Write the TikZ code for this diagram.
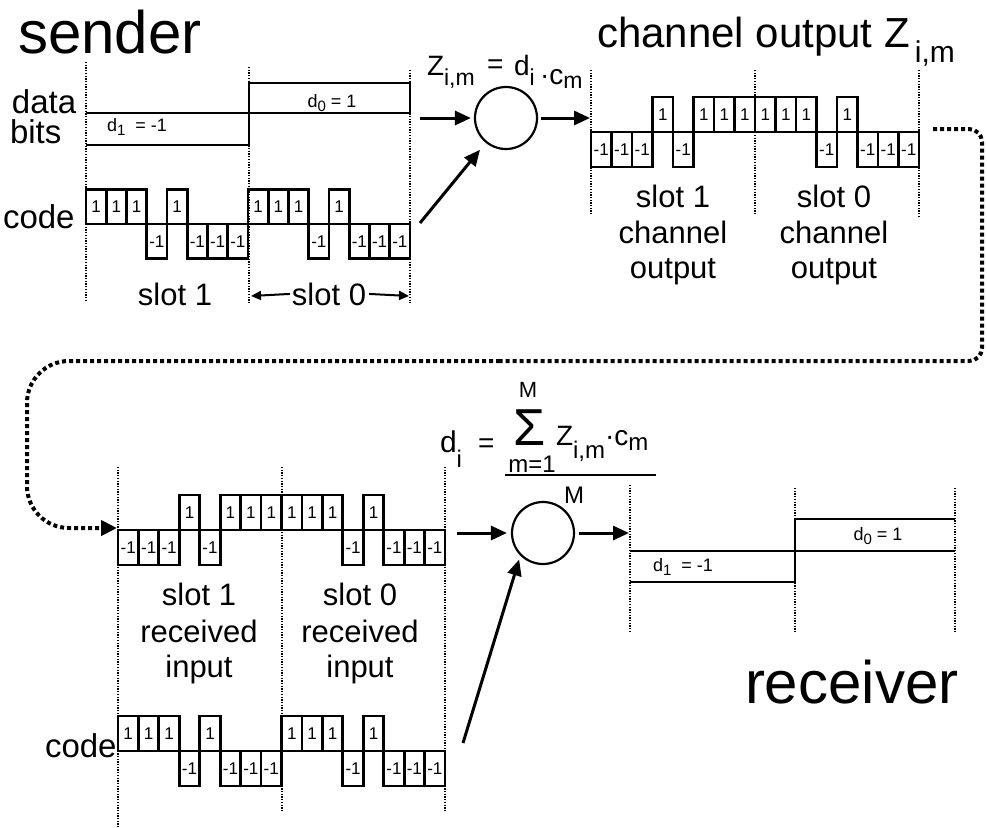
\documentclass[tikz,border=0pt]{standalone}
\usepackage{fontspec}
\setmainfont{Liberation Sans}
\usetikzlibrary{arrows.meta}
\newcommand\fs[1]{\fontsize{#1}{#1}\selectfont}
\newcommand\subs[3]{\raisebox{-#1pt}{\fs{#2}#3}}
\newcommand\chipwave[6]{%
  \foreach \v [count=\k from 0] in {#5}{%
    \pgfmathsetmacro\xa{#1+\k*#3}%
    \ifnum\v>0
      \node[chipbox, minimum width=#3pt, minimum height=#4pt, anchor=south west] (#6\k) at (\xa,#2) {1};
    \else
      \node[chipbox, minimum width=#3pt, minimum height=#4pt, anchor=north west] (#6\k) at (\xa,#2) {-1};
    \fi
  }%
}
\tikzset{
  chipbox/.style={draw, line width=2.8pt, inner sep=0pt, outer sep=0pt, font=\fs{17}},
  slotline/.style={line width=1.8pt, dash pattern=on 1.3pt off 1.4pt},
  bitbox/.style={line width=2.8pt},
  conn/.style={line width=4pt, dash pattern=on 4pt off 3pt},
  arr/.style={line width=3pt, -{Triangle[length=16pt,width=14pt]}},
  smallarr/.style={line width=2pt, -{Triangle[length=10pt,width=9pt]}},
  mixer/.style={circle, draw, line width=2.2pt, minimum size=62pt, inner sep=0pt},
  lab/.style={inner sep=0pt, outer sep=0pt},
}
\begin{document}
\begin{tikzpicture}[x=1pt,y=-1pt]
\useasboundingbox (0,0) rectangle (987,827);
\fill[white] (0,0) rectangle (987,827);

% ---------------- sender ----------------
\node[lab, font=\fs{60}, anchor=base west] (sender) at (18,53) {sender};
\node[lab, font=\fs{33}, anchor=base west] (data) at (12,113) {data};
\node[lab, font=\fs{33}, anchor=base west] (bits) at (10,143) {bits};
\node[lab, font=\fs{33}, anchor=base west] (code1) at (3,228) {code};

\draw[slotline] (86,62) -- (86,300);
\draw[slotline] (249,67) -- (249,302);
\draw[slotline] (410,70) -- (410,303);

\draw[bitbox] (86,113) -- (249,113) -- (249,145) -- (86,145);
\draw[bitbox] (249,113) -- (249,83) -- (410,83) -- (410,113) -- (249,113);
\node[lab, font=\fs{18}, anchor=base west] (sd1) at (107,131) {d\subs{4}{15}{1}\ \ = -1};
\node[lab, font=\fs{18}, anchor=base] (sd0) at (332,107) {d\subs{4}{15}{0} = 1};

\chipwave{86}{224}{20.25}{34.5}{1,1,1,-1,1,-1,-1,-1,1,1,1,-1,1,-1,-1,-1}{sc}

\node[lab, font=\fs{31}, anchor=base] (ss1) at (175,305) {slot 1};
\node[lab, font=\fs{31}, anchor=base] (ss0) at (329,305) {slot 0};
\coordinate (ss0l) at (251,296);
\coordinate (ss0r) at (409,296);
\draw[smallarr] ([xshift=-2pt]ss0.west) -- (ss0l);
\draw[smallarr] ([xshift=3pt]ss0.east) -- (ss0r);

% ---------------- first mixer ----------------
\node[mixer] (mix1) at (506,118) {};
\coordinate (a1s) at (420,118);
\coordinate (a2s) at (420,223);
\coordinate (a3e) at (590,118);
\draw[arr, shorten >=3pt] (a1s) -- (mix1);
\draw[arr, shorten >=9pt] (a2s) -- (mix1);
\draw[arr, shorten <=3pt] (mix1) -- (a3e);

\node[lab, font=\fs{28}, anchor=base west] (fz) at (427,75) {Z\subs{10}{23}{i,m}};
\node[lab, font=\fs{28}, anchor=base west] (feq) at (487,73) {=};
\node[lab, font=\fs{28}, anchor=base west] (fd) at (514,75) {d\subs{10}{23}{i}};
\node[lab, font=\fs{28}, anchor=base west] (fc) at (540,84) {·c\subs{4}{23}{m}};

% ---------------- channel output ----------------
\node[lab, font=\fs{42}, anchor=base west] (title) at (597,47) {channel output Z\kern5pt\subs{15}{30}{i,m}};
\draw[slotline] (591,70) -- (591,215);
\draw[slotline] (755,70) -- (755,215);
\draw[slotline] (919,70) -- (919,217);
\chipwave{591}{132}{20.5}{35}{-1,-1,-1,1,-1,1,1,1,1,1,1,-1,1,-1,-1,-1}{ch}
\node[lab, font=\fs{31}, anchor=base] (co1a) at (673,207) {slot 1};
\node[lab, font=\fs{31}, anchor=base] (co1b) at (673,243) {channel};
\node[lab, font=\fs{31}, anchor=base] (co1c) at (673,278) {output};
\node[lab, font=\fs{31}, anchor=base] (co0a) at (834,207) {slot 0};
\node[lab, font=\fs{31}, anchor=base] (co0b) at (834,243) {channel};
\node[lab, font=\fs{31}, anchor=base] (co0c) at (834,278) {output};

% ---------------- dotted connector ----------------
\coordinate (cstart) at (933,129);
\coordinate (cmid) at (500,361);
\coordinate (rin) at (117,528);
\draw[conn, rounded corners=13pt] (cstart) -- (982,129) -- (982,361) -- (cmid);
\draw[conn, rounded corners=42pt, -{Triangle[length=16pt,width=15pt]}] (cmid) -- (27,361) -- (27,528) -- (rin);

% ---------------- received input ----------------
\draw[slotline] (118,467) -- (118,827);
\draw[slotline] (282,467) -- (282,812);
\draw[slotline] (445,467) -- (445,810);
\chipwave{118}{530}{20.44}{35}{-1,-1,-1,1,-1,1,1,1,1,1,1,-1,1,-1,-1,-1}{rx}
\node[lab, font=\fs{31}, anchor=base] (ri1a) at (199,605) {slot 1};
\node[lab, font=\fs{31}, anchor=base] (ri1b) at (199,642) {received};
\node[lab, font=\fs{31}, anchor=base] (ri1c) at (199,677) {input};
\node[lab, font=\fs{31}, anchor=base] (ri0a) at (360,605) {slot 0};
\node[lab, font=\fs{31}, anchor=base] (ri0b) at (360,642) {received};
\node[lab, font=\fs{31}, anchor=base] (ri0c) at (360,677) {input};

\node[lab, font=\fs{33}, anchor=base west] (code2) at (45,757) {code};
\chipwave{118}{751}{20.44}{35}{1,1,1,-1,1,-1,-1,-1,1,1,1,-1,1,-1,-1,-1}{rc}

% ---------------- second mixer ----------------
\node[mixer] (mix2) at (543,533) {};
\coordinate (b1s) at (457,533);
\coordinate (b2s) at (463,743);
\coordinate (b3e) at (629,533);
\draw[arr, shorten >=4pt] (b1s) -- (mix2);
\draw[arr, shorten >=4pt] (b2s) -- (mix2.south west);
\draw[arr, shorten <=4pt] (mix2) -- (b3e);

\node[lab, font=\fs{30}, anchor=base west] (gd) at (440,452) {d\subs{15}{24}{i}};
\node[lab, font=\fs{28}, anchor=base west] (geq) at (478,452) {=};
\node[lab, font=\fs{52}, anchor=base] (gsig) at (530,445) {Σ};
\node[lab, font=\fs{22}, anchor=base] (gMt) at (528,397) {M};
\node[lab, font=\fs{24}, anchor=base] (gm1) at (532,472) {m=1};
\node[lab, font=\fs{28}, anchor=base west] (gz) at (556,445) {Z\subs{13}{24}{i,m}·c\subs{5}{24}{m}};
\draw[line width=2pt] (505,475) -- (656,475);
\node[lab, font=\fs{24}, anchor=base] (gMb) at (574,503) {M};

% ---------------- receiver ----------------
\draw[slotline] (630,485) -- (630,632);
\draw[slotline] (795,488) -- (795,633);
\draw[slotline] (955,488) -- (955,633);
\draw[bitbox] (630,551) -- (795,551) -- (795,582) -- (630,582);
\draw[bitbox] (795,551) -- (795,519) -- (955,519);
\draw[bitbox] (795,551) -- (955,551);
\node[lab, font=\fs{18}, anchor=base west] (rd1) at (653,571) {d\subs{4}{15}{1}\ \ = -1};
\node[lab, font=\fs{18}, anchor=base] (rd0) at (878,540) {d\subs{4}{15}{0} = 1};
\node[lab, font=\fs{60}, anchor=base west] (recv) at (745,703) {receiver};
\end{tikzpicture}
\end{document}
